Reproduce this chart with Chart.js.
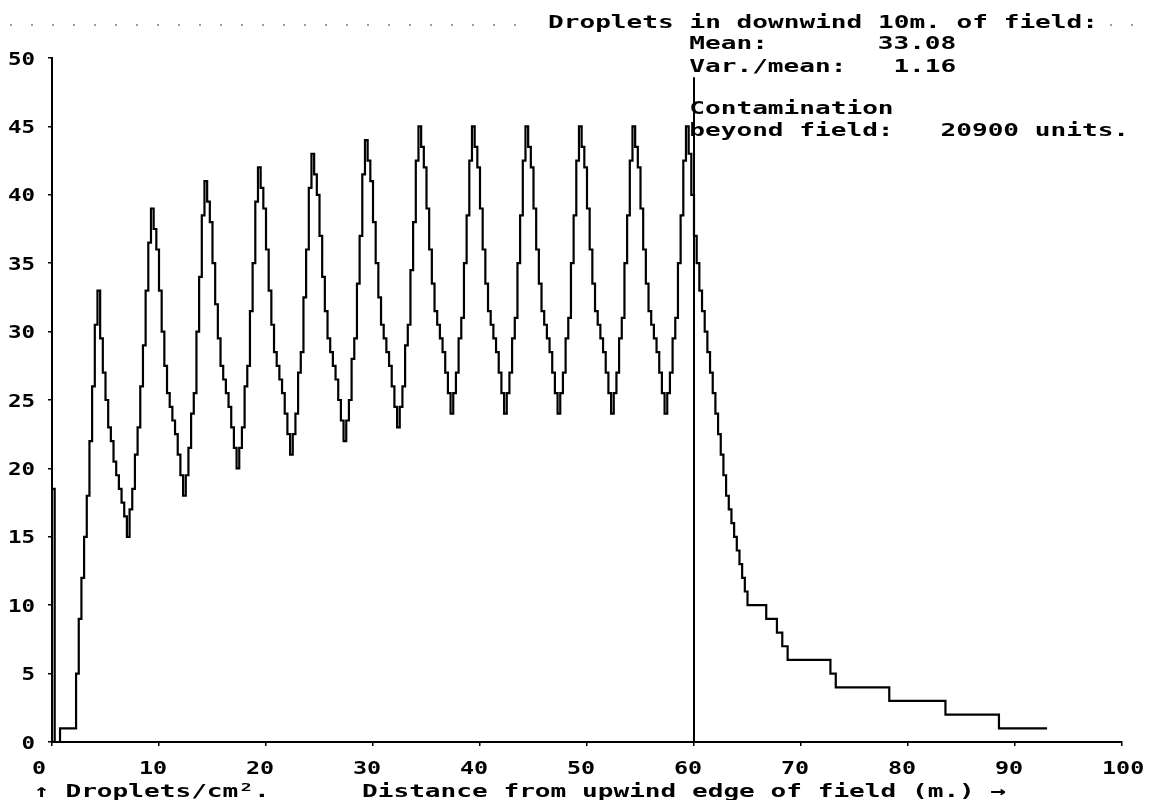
<!DOCTYPE html>
<html>
<head>
<meta charset="utf-8">
<script src="https://cdn.jsdelivr.net/npm/chart.js@4.4.1/dist/chart.umd.min.js"></script>
<style>
  html, body { margin: 0; padding: 0; background: #fff; }
  canvas { display: block; }
</style>
</head>
<body>
<canvas id="myChart" width="1151" height="800"></canvas>
<script>
// droplets per cm2 in 0.25 m bins starting at x = 0
let binWidth = 0.25;

let startBins = [18.5, 0, 0, 1, 1, 1, 1, 1, 1, 5, 9, 12, 15, 18, 22, 26, 30.5];

// one row per swath, peak first, 20 bins each (4.25 m ... 59.0 m)
let swathBins = [
  [33, 29.5, 27, 25, 23, 22, 20.5, 19.5, 18.5, 17.5, 16.5, 15, 17, 18.5, 21, 23, 26, 29, 33, 36.5],
  [39, 37.5, 36, 33, 30, 27.5, 25.5, 24.5, 23.5, 22.5, 21, 19.5, 18, 19.5, 21.5, 24, 25.5, 30, 34, 38.5],
  [41, 39.5, 38, 35, 32, 29.5, 27.5, 26.5, 25.5, 24.5, 23, 21.5, 20, 21.5, 23, 26, 27.5, 31.5, 35, 39.5],
  [42, 40.5, 39, 36, 33, 30.5, 28.5, 27.5, 26.5, 25.5, 24, 22.5, 21, 22.5, 24, 27, 28.5, 32.5, 36, 40.5],
  [43, 41.5, 40, 37, 34, 31.5, 29.5, 28.5, 27.5, 26.5, 25, 23.5, 22, 23.5, 25, 28, 29.5, 33.5, 37, 41.5],
  [44, 42.5, 41, 38, 35, 32.5, 30.5, 29.5, 28.5, 27.5, 26, 24.5, 23, 24.5, 26, 29, 30.5, 34.5, 38, 42.5],
  [45, 43.5, 42, 39, 36, 33.5, 31.5, 30.5, 29.5, 28.5, 27, 25.5, 24, 25.5, 27, 29.5, 31, 35, 38.5, 42.5],
  [45, 43.5, 42, 39, 36, 33.5, 31.5, 30.5, 29.5, 28.5, 27, 25.5, 24, 25.5, 27, 29.5, 31, 35, 38.5, 42.5],
  [45, 43.5, 42, 39, 36, 33.5, 31.5, 30.5, 29.5, 28.5, 27, 25.5, 24, 25.5, 27, 29.5, 31, 35, 38.5, 42.5],
  [45, 43.5, 42, 39, 36, 33.5, 31.5, 30.5, 29.5, 28.5, 27, 25.5, 24, 25.5, 27, 29.5, 31, 35, 38.5, 42.5],
  [45, 43.5, 42, 39, 36, 33.5, 31.5, 30.5, 29.5, 28.5, 27, 25.5, 24, 25.5, 27, 29.5, 31, 35, 38.5, 42.5]
];

// last peak and the drop past the field edge (59.25 m ... 64.75 m)
let edgeBins = [45, 43, 40, 37, 35, 33, 31.5, 30, 28.5, 27, 25.5, 24, 22.5, 21, 19.5, 18, 17, 16, 15, 14, 13, 12, 11];

// drift tail, coarse steps
let tailX = [65, 66.75, 67.75, 68.25, 68.75, 72.75, 73.25, 78.25, 83.5, 88.5, 93];
let tailY = [10, 9, 8, 7, 6, 5, 4, 3, 2, 1, 1];

let xTicks = [0, 10, 20, 30, 40, 50, 60, 70, 80, 90, 100];
let yTicks = [0, 5, 10, 15, 20, 25, 30, 35, 40, 45, 50];
let fieldEdge = 60;
let fieldEdgeTop = 48.6;

let headerText = 'Droplets in downwind 10m. of field:';
let statLabels = ['Mean:', 'Var./mean:'];
let statValues = ['33.08', '1.16'];
let contamLines = ['Contamination', 'beyond field:'];
let contamValue = '20900 units.';
let yTitle = '\u2191 Droplets/cm\u00b2.';
let xTitle = 'Distance from upwind edge of field (m.) \u2192';

let bins = startBins.concat(...swathBins, edgeBins);
let points = bins.map(function(v, i) { return {x: i * binWidth, y: v}; });
tailX.forEach(function(x, i) { points.push({x: x, y: tailY[i]}); });

const FONT = 'bold 18px "DejaVu Sans Mono"';
const COL = 15.7;
const COL0 = 548;

function wideText(ctx, text, x, y, align, sx) {
  ctx.save();
  ctx.font = FONT;
  ctx.fillStyle = '#000';
  ctx.textBaseline = 'alphabetic';
  let w = ctx.measureText(text).width * sx;
  let left = x;
  if (align === 'right') left = x - w;
  if (align === 'center') left = x - w / 2;
  ctx.translate(left, y);
  ctx.scale(sx, 1);
  ctx.fillText(text, 0, 0);
  ctx.restore();
}

// faint dotted leader along the top line of the printout
function leaderDots(ctx, x0, x1, y) {
  ctx.save();
  ctx.fillStyle = '#9a9a9a';
  for (let x = x0; x <= x1; x += 21) {
    ctx.fillRect(x, y, 2, 2);
  }
  ctx.restore();
}

const printout = {
  id: 'printout',
  afterDatasetsDraw(chart) {
    const ctx = chart.ctx;
    const xs = chart.scales.x;
    const ys = chart.scales.y;

    // field edge marker
    ctx.save();
    ctx.strokeStyle = '#000';
    ctx.lineWidth = 2;
    ctx.beginPath();
    ctx.moveTo(xs.getPixelForValue(fieldEdge), ys.getPixelForValue(fieldEdgeTop));
    ctx.lineTo(xs.getPixelForValue(fieldEdge), ys.getPixelForValue(0));
    ctx.stroke();
    ctx.restore();

    // tick labels
    yTicks.forEach(function(v) {
      wideText(ctx, String(v), 35, ys.getPixelForValue(v) + 6.5, 'right', 1.25);
    });
    xTicks.forEach(function(v) {
      wideText(ctx, String(v), xs.getPixelForValue(v) - 20, 774, 'left', 1.3);
    });

    // notes
    leaderDots(ctx, 10, 530, 24);
    leaderDots(ctx, 1110, 1145, 24);
    wideText(ctx, headerText, COL0, 28, 'left', 1.45);
    statLabels.forEach(function(t, i) {
      wideText(ctx, t, COL0 + 9 * COL, 49 + i * 23, 'left', 1.45);
    });
    wideText(ctx, statValues[0], COL0 + 21 * COL, 49, 'left', 1.45);
    wideText(ctx, statValues[1], COL0 + 22 * COL, 72, 'left', 1.45);
    contamLines.forEach(function(t, i) {
      wideText(ctx, t, COL0 + 9 * COL, 114 + i * 22, 'left', 1.45);
    });
    wideText(ctx, contamValue, COL0 + 25 * COL, 136, 'left', 1.45);

    wideText(ctx, yTitle, 34, 797, 'left', 1.45);
    wideText(ctx, xTitle, 362, 797, 'left', 1.45);
  }
};

let data = {
  datasets: [{
    label: 'Droplets',
    data: points,
    stepped: true,
    borderColor: '#000',
    borderWidth: 2.2,
    pointRadius: 0,
    fill: false
  }]
};

let config = {
  type: 'line',
  data: data,
  options: {
    responsive: false,
    animation: false,
    devicePixelRatio: 1,
    layout: { padding: { top: 58, right: 29, left: 0, bottom: 0 } },
    plugins: { legend: { display: false }, tooltip: { enabled: false } },
    scales: {
      x: {
        type: 'linear',
        min: 0,
        max: 100,
        ticks: { stepSize: 10, display: false },
        grid: { drawOnChartArea: false, color: '#000', tickLength: 4, lineWidth: 1.5 },
        border: { color: '#000', width: 2 },
        afterFit: function(scale) { scale.height = 58; }
      },
      y: {
        min: 0,
        max: 50,
        ticks: { stepSize: 5, display: false },
        grid: { drawOnChartArea: false, color: '#000', tickLength: 4, lineWidth: 1.5 },
        border: { color: '#000', width: 2 },
        afterFit: function(scale) { scale.width = 52; }
      }
    }
  },
  plugins: [printout]
};

let myChart = new Chart(document.getElementById('myChart'), config);
</script>
</body>
</html>
